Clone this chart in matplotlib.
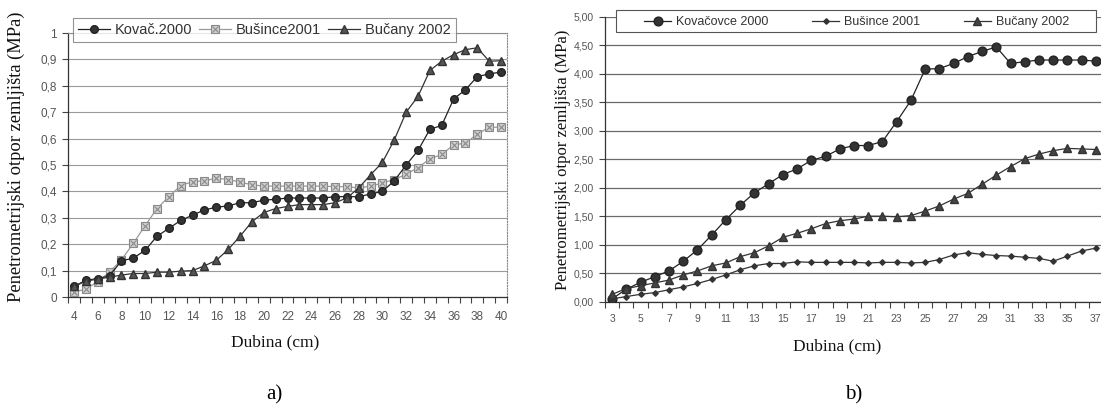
import matplotlib
matplotlib.use("Agg")
import matplotlib.pyplot as plt
from matplotlib.patches import Rectangle
from matplotlib.ticker import FixedLocator, FuncFormatter

# a) depth categories and penetrometer resistance (MPa)
depth_a = list(range(4, 41))
kovac_a = [0.04, 0.063, 0.07, 0.08, 0.137, 0.147, 0.177, 0.23, 0.26, 0.29,
           0.31, 0.33, 0.34, 0.345, 0.357, 0.357, 0.367, 0.37, 0.375, 0.375,
           0.375, 0.375, 0.38, 0.38, 0.38, 0.39, 0.40, 0.44, 0.50, 0.555,
           0.635, 0.65, 0.75, 0.785, 0.835, 0.845, 0.852]
busince_a = [0.018, 0.03, 0.058, 0.095, 0.14, 0.203, 0.27, 0.335, 0.38, 0.422,
             0.437, 0.44, 0.45, 0.445, 0.435, 0.425, 0.42, 0.42, 0.42, 0.42,
             0.42, 0.42, 0.418, 0.418, 0.413, 0.42, 0.432, 0.445, 0.465, 0.49,
             0.523, 0.54, 0.576, 0.583, 0.617, 0.643, 0.643]
bucany_a = [0.04, 0.06, 0.068, 0.075, 0.083, 0.089, 0.089, 0.094, 0.094, 0.098,
            0.10, 0.118, 0.139, 0.18, 0.23, 0.285, 0.32, 0.335, 0.343, 0.35,
            0.35, 0.35, 0.357, 0.375, 0.413, 0.463, 0.51, 0.595, 0.70, 0.76,
            0.858, 0.893, 0.918, 0.937, 0.944, 0.893, 0.895]
labels_a = ["Kovač.2000", "Bušince2001", "Bučany 2002"]

# b)
depth_b = list(range(3, 38))
kovacovce_b = [0.05, 0.22, 0.34, 0.44, 0.54, 0.71, 0.91, 1.17, 1.44, 1.69,
               1.91, 2.07, 2.23, 2.33, 2.48, 2.55, 2.68, 2.74, 2.74, 2.81,
               3.16, 3.53, 4.08, 4.09, 4.18, 4.30, 4.39, 4.47, 4.18, 4.21,
               4.24, 4.24, 4.24, 4.24, 4.22]
busince_b = [0.05, 0.09, 0.13, 0.16, 0.21, 0.26, 0.32, 0.39, 0.47, 0.56,
             0.63, 0.67, 0.67, 0.70, 0.69, 0.69, 0.69, 0.69, 0.68, 0.69,
             0.69, 0.68, 0.69, 0.74, 0.82, 0.86, 0.83, 0.81, 0.80, 0.78,
             0.76, 0.71, 0.80, 0.89, 0.94]
bucany_b = [0.13, 0.23, 0.28, 0.33, 0.38, 0.47, 0.54, 0.63, 0.68, 0.79,
            0.86, 0.98, 1.13, 1.20, 1.28, 1.37, 1.42, 1.45, 1.50, 1.50,
            1.49, 1.51, 1.59, 1.68, 1.80, 1.90, 2.06, 2.22, 2.37, 2.51,
            2.59, 2.65, 2.69, 2.68, 2.67]
labels_b = ["Kovačovce 2000", "Bušince 2001", "Bučany 2002"]

y_label = "Penetrometrijski otpor zemljišta (MPa)"
x_label = "Dubina (cm)"

W, H = 1101, 411
SANS = "Liberation Sans"
SERIF = "Liberation Serif"
TICK_COLOR = "#555555"

fig = plt.figure(figsize=(W / 100, H / 100), dpi=100)


def px_box(left, top, right, bottom):
    return [left / W, 1 - bottom / H, (right - left) / W, (bottom - top) / H]


def category_axis(ax, first, last, step, size, pad):
    ax.xaxis.set_major_locator(FixedLocator(list(range(first, last + 1, step))))
    ax.xaxis.set_minor_locator(FixedLocator([c + 0.5 for c in range(first - 1, last + 4)]))
    ax.tick_params(axis="x", which="major", length=0, pad=pad, labelsize=size,
                   labelcolor=TICK_COLOR)
    ax.tick_params(axis="x", which="minor", length=4, width=0.8, color="#444444",
                   direction="out")
    for lab in ax.get_xticklabels():
        lab.set_family(SANS)


# ---------- chart a ----------
ax = fig.add_axes(px_box(68, 33, 507, 297))
l1, = ax.plot(depth_a, kovac_a, color="#222222", lw=0.9, marker="o", ms=5.5,
              mfc="#333333", mec="#222222", zorder=4)
l2, = ax.plot(depth_a, busince_a, color="#9a9a9a", lw=0.9, marker="s", ms=5.8,
              mfc="#d0d0d0", mec="#8a8a8a", mew=0.8, zorder=3)
l2x, = ax.plot(depth_a, busince_a, ls="none", marker="x", ms=3.8,
               mec="#8a8a8a", mew=0.8, zorder=3)
l3, = ax.plot(depth_a, bucany_a, color="#333333", lw=0.9, marker="^", ms=5.5,
              mfc="#555555", mec="#333333", zorder=5)
ax.set_xlim(3.5, 40.5)
ax.set_ylim(0, 1)
category_axis(ax, 4, 40, 2, 8.5, 10)
ax.set_yticks([i / 10 for i in range(11)])
ax.yaxis.set_major_formatter(FuncFormatter(
    lambda v, p: "0" if v == 0 else ("1" if v == 1 else f"{v:.1f}".replace(".", ","))))
ax.tick_params(axis="y", length=4, width=0.8, color="#444444", labelsize=8.5,
               labelcolor=TICK_COLOR, pad=4)
for lab in ax.get_yticklabels():
    lab.set_family(SANS)
ax.grid(axis="y", color="#9a9a9a", lw=0.8)
ax.set_axisbelow(True)
for side in ("top", "right"):
    ax.spines[side].set_linestyle((0, (1, 1.5)))
    ax.spines[side].set_color("#888888")
    ax.spines[side].set_linewidth(0.8)
for side in ("left", "bottom"):
    ax.spines[side].set_color("#333333")
    ax.spines[side].set_linewidth(0.9)
ax.set_ylabel(y_label, family=SERIF, fontsize=13.3, color="#111111")
ax.yaxis.set_label_coords((25 - 68) / 439, 0.53)
ax.set_xlabel(x_label, family=SERIF, fontsize=12.5, color="#111111")
ax.xaxis.set_label_coords((275 - 68) / 439, -0.14)
leg = ax.legend([l1, (l2, l2x), l3], labels_a, loc="lower left",
                bbox_to_anchor=((73 - 68) / 439, 1 - (42 - 33) / 264),
                ncol=3, frameon=True, fancybox=False, edgecolor="#777777",
                prop={"family": SANS, "size": 10.5}, handlelength=2.2,
                handletextpad=0.3, columnspacing=0.5, borderpad=0.35,
                borderaxespad=0)
leg.get_frame().set_linewidth(0.8)
for t in leg.get_texts():
    t.set_color("#333333")

# ---------- chart b ----------
bx = fig.add_axes(px_box(605, 16.7, 1101, 301.7))
k1, = bx.plot(depth_b, kovacovce_b, color="#222222", lw=0.9, marker="o", ms=6.3,
              mfc="#333333", mec="#222222", zorder=4)
k2, = bx.plot(depth_b, busince_b, color="#333333", lw=0.9, marker="D", ms=2.8,
              mfc="#333333", mec="#333333", zorder=3)
k3, = bx.plot(depth_b, bucany_b, color="#333333", lw=0.9, marker="^", ms=6.3,
              mfc="#444444", mec="#333333", zorder=5)
bx.set_xlim(2.5, 37.36)
bx.set_ylim(0, 5)
category_axis(bx, 3, 37, 2, 7.5, 9)
bx.set_yticks([i / 2 for i in range(11)])
bx.yaxis.set_major_formatter(FuncFormatter(lambda v, p: f"{v:.2f}".replace(".", ",")))
bx.tick_params(axis="y", length=4, width=0.8, color="#444444", labelsize=7.5,
               labelcolor=TICK_COLOR, pad=4)
for lab in bx.get_yticklabels():
    lab.set_family(SANS)
bx.grid(axis="y", color="#6a6a6a", lw=0.9)
bx.set_axisbelow(True)
bx.spines["top"].set_visible(False)
bx.spines["right"].set_visible(False)
for side in ("left", "bottom"):
    bx.spines[side].set_color("#333333")
    bx.spines[side].set_linewidth(0.9)
bx.set_ylabel(y_label, family=SERIF, fontsize=12, color="#111111")
bx.yaxis.set_label_coords((571 - 605) / 496, 0.497)
bx.set_xlabel(x_label, family=SERIF, fontsize=12.5, color="#111111")
bx.xaxis.set_label_coords((837 - 605) / 496, -0.127)
# legend box of chart b is wider than its entries
bx.add_patch(Rectangle((616 / W, 1 - 32 / H), (1096 - 616) / W, 22 / H,
                       transform=fig.transFigure, facecolor="white",
                       edgecolor="#555555", lw=0.8, zorder=8, clip_on=False))
legb = bx.legend([k1, k2, k3], labels_b, loc="lower left",
                 bbox_to_anchor=((640 - 605) / 496, 1 - (32 - 16.7) / 285,
                                 (1073 - 640) / 496, (32 - 10) / 285),
                 mode="expand", ncol=3, frameon=False,
                 prop={"family": SANS, "size": 9}, handlelength=2.2,
                 handletextpad=0.4, borderpad=0.3, borderaxespad=0)
legb.set_zorder(9)
for t in legb.get_texts():
    t.set_color("#333333")

# panel captions
fig.text(274 / W, 1 - 395 / H, "a)", family=SERIF, fontsize=15, ha="center", va="center")
fig.text(854 / W, 1 - 395 / H, "b)", family=SERIF, fontsize=15, ha="center", va="center")

fig.savefig("out.png", dpi=100)
